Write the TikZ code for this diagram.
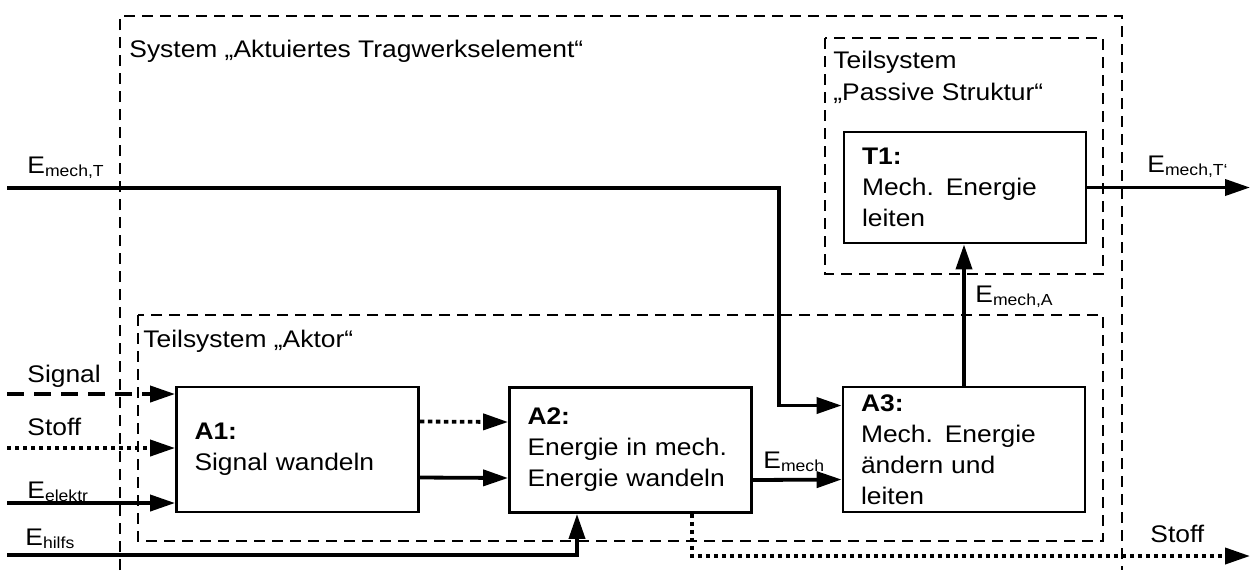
\documentclass[tikz,border=0pt]{standalone}
\usepackage{fontspec}
\setmainfont{Liberation Sans}[FakeStretch=1.1]
\usetikzlibrary{arrows.meta}

\begin{document}
\begin{tikzpicture}[x=0.5pt,y=-0.5pt,font=\fontsize{12}{15.5}\selectfont]
\tikzstyle{every node}+=[inner sep=0pt]
\tikzstyle{funcbox}=[draw, line width=1.4pt, align=left, text width=103pt, inner xsep=9pt, minimum height=62.5pt]
\tikzstyle{grenze}=[line width=1.1pt, dash pattern=on 5.5pt off 3.5pt]
\tikzstyle{fluss}=[line width=1.9pt, -{Triangle[length=12.5pt,width=8pt]}]
\tikzstyle{signalfluss}=[fluss, dash pattern=on 8.5pt off 5pt]
\tikzstyle{stofffluss}=[fluss, dash pattern=on 2.2pt off 1.8pt]
\tikzstyle{lbl}=[anchor=base west]
\useasboundingbox (0,0) rectangle (1251,570);

% Systemgrenzen
\draw [grenze] (120,570) -- (120,16) -- (1122,16) -- (1122,570);
\draw [grenze] (138,315) rectangle (1103,541);
\draw [grenze] (825,38) rectangle (1103,274);
\node [lbl] (sys) at (129,57) {System „Aktuiertes Tragwerkselement“};
\node [lbl] (akt) at (143,347) {Teilsystem „Aktor“};
\node [lbl] (pas1) at (833,68) {Teilsystem};
\node [lbl] (pas2) at (833,100) {„Passive Struktur“};

% Funktionen
\node [funcbox] (A1) at (297.5,449.5) {\textbf{A1:}\\Signal wandeln};
\node [funcbox] (A2) at (630.5,450) {\textbf{A2:}\\Energie in mech.\\Energie wandeln};
\node [funcbox] (A3) at (964,449.5) {\textbf{A3:}\\Mech. Energie\\ändern und\\leiten};
\node [funcbox, minimum height=55.5pt] (T1) at (965,187.5) {\textbf{T1:}\\Mech. Energie\\leiten};

% Ein- und Ausgaenge
\coordinate (emt) at (7,188);
\coordinate (emtknick) at (779,188);
\coordinate (emtaus) at (1250,188);
\coordinate (sig) at (7,394);
\coordinate (stoffein) at (7,448);
\coordinate (elektr) at (7,503);
\coordinate (hilfs) at (7,555);
\coordinate (hilfsknick) at (577,555);
\coordinate (stoffknick) at (692,556);
\coordinate (stoffaus) at (1250,556);

\draw [fluss] (emt) -- (emtknick) |- ([yshift=22pt]A3.west);
\draw [signalfluss] (sig) -- (sig -| A1.west);
\draw [stofffluss] (stoffein) -- (stoffein -| A1.west);
\draw [fluss] (elektr) -- (elektr -| A1.west);
\draw [fluss] (hilfs) -- (hilfsknick) -- (hilfsknick |- A2.south);
\draw [stofffluss] ([yshift=14pt]A1.east) -- ([yshift=14pt]A2.west);
\draw [fluss] ([yshift=-14pt]A1.east) -- ([yshift=-14pt]A2.west);
\draw [fluss] ([yshift=-15pt]A2.east) -- ([yshift=-15pt]A3.west);
\draw [fluss] (A3.north) -- (A3.north |- T1.south);
\draw [fluss] (T1.east) -- (T1.east -| emtaus);
\draw [stofffluss] (A2.south -| stoffknick) -- (stoffknick) -- (stoffaus);

\node [lbl] (lsig) at (27,382) {Signal};
\node [lbl] (lstoffein) at (27,435) {Stoff};
\node [lbl] (lelektr) at (27,498) {E\textsubscript{elektr}};
\node [lbl] (lhilfs) at (25,545) {E\textsubscript{hilfs}};
\node [lbl] (lemt) at (27,173) {E\textsubscript{mech,T}};
\node [lbl] (lemech) at (763,468) {E\textsubscript{mech}};
\node [lbl] (lema) at (975,302) {E\textsubscript{mech,A}};
\node [lbl] (lemtaus) at (1147,172) {E\textsubscript{mech,T‘}};
\node [lbl] (lstoffaus) at (1150,542) {Stoff};
\end{tikzpicture}
\end{document}
